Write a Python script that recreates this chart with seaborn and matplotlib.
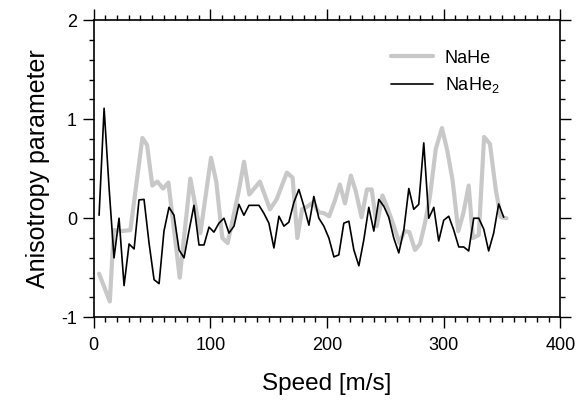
import numpy as np
import pandas as pd
import seaborn as sns
import matplotlib.pyplot as plt
from matplotlib.ticker import MultipleLocator

# NaHe (grey) - speed [m/s] and anisotropy
nahe_speed = [4.7, 13.9, 17.3, 23.8, 31.5, 41.8, 45.8, 50.3, 54.6, 59.5,
              64.1, 73.8, 82.9, 91.5, 100.6, 105.1, 110.3, 114.9, 124.3, 128.9,
              133.4, 142.5, 151.1, 156.8, 165.6, 170.5, 174.6, 178.6, 183.5, 188.2,
              192.8, 197.5, 201.8, 206.8, 211.0, 215.4, 220.4, 224.7, 229.6, 234.2,
              238.3, 242.6, 247.5, 252.2, 257.0, 262.0, 266.5, 270.5, 275.4, 279.7,
              283.9, 288.2, 293.2, 298.5, 303.1, 307.6, 312.5, 316.8, 321.4, 325.0,
              330.0, 334.6, 339.6, 344.6, 348.8, 353.8]
nahe_aniso = [-0.56, -0.84, -0.12, -0.13, -0.12, 0.81, 0.74, 0.33, 0.37, 0.30,
              0.36, -0.60, 0.40, -0.15, 0.61, 0.37, -0.20, -0.25, 0.27, 0.57,
              0.24, 0.37, 0.09, 0.19, 0.46, 0.41, -0.20, 0.09, 0.12, 0.16,
              0.06, 0.05, 0.02, 0.18, 0.34, 0.15, 0.43, 0.27, 0.01, 0.29,
              0.29, -0.08, 0.23, 0.09, -0.07, -0.25, -0.13, -0.14, -0.32, -0.26,
              -0.05, 0.22, 0.70, 0.91, 0.68, 0.38, -0.13, 0.05, 0.33, -0.20,
              -0.17, 0.82, 0.75, 0.29, 0.01, 0.0]

# NaHe2 (black)
nahe2_speed = [4.7, 9.0, 13.3, 17.5, 21.8, 26.1, 30.4, 34.7, 38.9, 43.2,
               47.5, 51.8, 56.1, 60.3, 64.6, 68.9, 73.2, 77.5, 81.7, 86.0,
               90.3, 94.6, 98.9, 103.1, 107.4, 111.7, 116.0, 120.3, 124.5, 128.8,
               133.1, 137.4, 141.7, 145.9, 150.2, 154.5, 158.8, 163.1, 167.3, 171.6,
               175.9, 180.2, 184.5, 188.7, 193.0, 197.3, 201.6, 205.9, 210.1, 214.4,
               218.7, 223.0, 227.3, 231.5, 235.8, 240.1, 244.4, 248.7, 252.9, 257.2,
               261.5, 265.8, 270.1, 274.3, 278.6, 282.9, 287.2, 291.5, 295.7, 300.0,
               304.3, 308.6, 312.9, 317.1, 321.4, 325.7, 330.0, 334.3, 338.5, 342.8,
               347.1, 351.4]
nahe2_aniso = [0.03, 1.11, 0.30, -0.40, 0.00, -0.68, -0.26, -0.31, 0.185, 0.19,
               -0.25, -0.62, -0.66, -0.13, 0.11, 0.03, -0.32, -0.40, -0.13, 0.13,
               -0.27, -0.27, -0.09, -0.14, -0.05, 0.00, -0.15, -0.08, 0.14, 0.03,
               0.13, 0.13, 0.13, 0.05, -0.05, -0.30, 0.02, -0.08, -0.04, 0.16,
               0.29, 0.12, -0.07, 0.22, 0.00, -0.08, -0.20, -0.39, -0.37, -0.05,
               -0.03, -0.32, -0.48, -0.22, 0.11, -0.13, 0.19, 0.12, 0.01, -0.20,
               -0.35, -0.12, 0.30, 0.09, 0.14, 0.76, 0.00, 0.11, -0.23, -0.02,
               0.02, -0.12, -0.29, -0.29, -0.33, 0.00, 0.00, -0.11, -0.33, -0.15,
               0.145, 0.01]

sns.set_style('ticks')
plt.rcParams['font.family'] = ['Liberation Sans', 'DejaVu Sans']
plt.rcParams['mathtext.fontset'] = 'custom'
plt.rcParams['mathtext.rm'] = 'Liberation Sans'
plt.rcParams['mathtext.it'] = 'Liberation Sans'
plt.rcParams['axes.unicode_minus'] = False
for key in ['text.color', 'axes.labelcolor', 'xtick.color', 'ytick.color', 'axes.edgecolor']:
    plt.rcParams[key] = 'black'

df1 = pd.DataFrame({'speed': nahe_speed, 'aniso': nahe_aniso})
df2 = pd.DataFrame({'speed': nahe2_speed, 'aniso': nahe2_aniso})

fig = plt.figure(figsize=(5.85, 4.01), dpi=100)
ax = fig.add_axes([0.16, 0.2087, 0.798, 0.7413])

sns.lineplot(data=df1, x='speed', y='aniso', ax=ax, color='#c8c8c8',
             linewidth=3.0, label='NaHe', estimator=None, sort=False)
sns.lineplot(data=df2, x='speed', y='aniso', ax=ax, color='black',
             linewidth=1.2, label='NaHe$_2$', estimator=None, sort=False)

ax.set_xlim(0, 400)
ax.set_ylim(-1, 2)
ax.xaxis.set_major_locator(MultipleLocator(100))
ax.xaxis.set_minor_locator(MultipleLocator(10))
ax.yaxis.set_major_locator(MultipleLocator(1))
ax.yaxis.set_minor_locator(MultipleLocator(0.2))

for s in ax.spines.values():
    s.set_visible(True)
    s.set_linewidth(1.2)
    s.set_color('black')
ax.tick_params(which='both', direction='out', top=True, right=True,
               labelsize=13, width=1.0, color='black', labelcolor='black')
ax.tick_params(which='major', length=8)
ax.tick_params(axis='x', which='major', pad=6)
ax.tick_params(axis='y', which='major', pad=4)
ax.tick_params(which='minor', length=3.6)

ax.set_xlabel('Speed [m/s]', fontsize=17.5, labelpad=14)
ax.set_ylabel('Anisotropy parameter', fontsize=18, labelpad=8)

leg = ax.legend(loc='upper left', bbox_to_anchor=(0.636, 0.90), frameon=False,
                fontsize=13, handlelength=2.36, handletextpad=0.65,
                labelspacing=0.45, borderpad=0, borderaxespad=0)

fig.savefig('out.png', dpi=100)
